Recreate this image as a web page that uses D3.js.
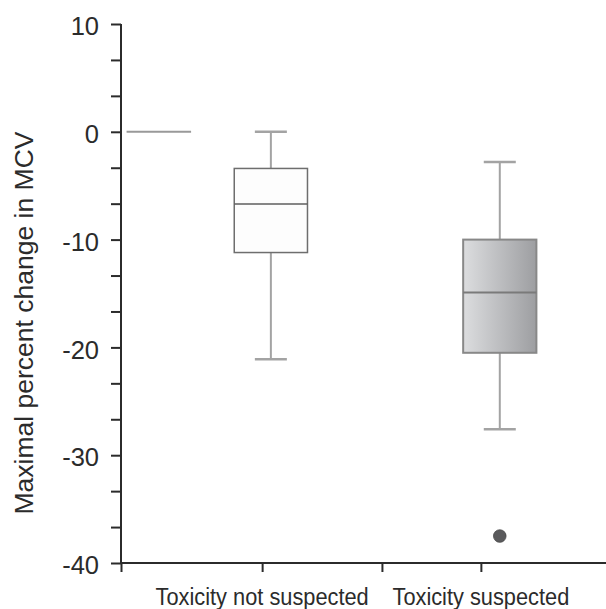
<!DOCTYPE html>
<html>
<head>
<meta charset="utf-8">
<script src="https://cdn.jsdelivr.net/npm/d3@7"></script>
<style>
  body { margin: 0; background: #fff; }
  text { font-family: "Liberation Sans", Arial, sans-serif; fill: #2b2b2b; }
</style>
</head>
<body>
<script>
// Data
const groups = ["Reference", "Toxicity not suspected", "Toxicity suspected"];
const whiskerLow = [0, -21.1, -27.6];
const q1 = [0, -11.2, -20.5];
const median = [0, -6.7, -14.9];
const q3 = [0, -3.4, -10.0];
const whiskerHigh = [0, 0, -2.8];
const outliers = [[], [], [-37.5]];
const xLabels = ["Toxicity not suspected", "Toxicity suspected"];
const yTickLabels = ["-40", "-30", "-20", "-10", "0", "10"];

// Layout (x in axis units, 0..100)
const width = 606, height = 609;
const boxCenter = [7.8, 30.9, 78.1];
const boxWidth = [13.3, 15.1, 15.1];
const capWidth = 6.6;
const labelPos = [29.1, 74.2];
const boundaryTicks = [0, 53.8];

const svg = d3.select("body").append("svg")
    .attr("width", width)
    .attr("height", height);

const x = d3.scaleLinear().domain([0, 100]).range([121, 606]);
const y = d3.scaleLinear().domain([-40, 10]).range([563, 24]);

// gradient for the second box
const defs = svg.append("defs");
const grad = defs.append("linearGradient").attr("id", "boxGrad")
    .attr("x1", "0%").attr("x2", "100%").attr("y1", "0%").attr("y2", "0%");
grad.append("stop").attr("offset", "0%").attr("stop-color", "#dcdddf");
grad.append("stop").attr("offset", "100%").attr("stop-color", "#9d9ea1");

// Y axis
const yTicks = d3.range(0, 16).map(i => -40 + i * 10 / 3);
const yAxis = d3.axisLeft(y)
    .tickValues(yTicks)
    .tickSize(10)
    .tickPadding(12)
    .tickFormat((d, i) => i % 3 === 0 ? yTickLabels[i / 3] : "");

const gy = svg.append("g")
    .attr("transform", `translate(${x(0)},0)`)
    .call(yAxis);
gy.select(".domain").attr("stroke", "#2b2b2b").attr("stroke-width", 2)
    .attr("d", `M0,${y(10)}V${y(-40)}`);
gy.selectAll(".tick line").attr("stroke", "#2b2b2b").attr("stroke-width", 2);
gy.selectAll(".tick text").style("font-size", "25.5px").attr("fill", "#2b2b2b").attr("dy", "0.42em");

// X axis
const xTickVals = [boundaryTicks[0], labelPos[0], boundaryTicks[1], labelPos[1]];
const xAxis = d3.axisBottom(x)
    .tickValues(xTickVals)
    .tickSize(9)
    .tickFormat("");
const gx = svg.append("g")
    .attr("transform", `translate(0,${y(-40)})`)
    .call(xAxis);
gx.select(".domain").attr("stroke", "#2b2b2b").attr("stroke-width", 2)
    .attr("d", `M${x(0) - 1},0H${x(100)}`);
gx.selectAll(".tick line").attr("stroke", "#2b2b2b").attr("stroke-width", 2);

// labels are slightly taller than wide in the reference
svg.selectAll(".xlabel")
    .data(xLabels)
    .enter()
    .append("text")
    .attr("class", "xlabel")
    .attr("transform", (d, i) => `translate(${x(labelPos[i])},605) scale(1,1.08)`)
    .attr("text-anchor", "middle")
    .style("font-size", "21.8px")
    .text(d => d);

// Y label
svg.append("text")
    .attr("transform", `translate(33,323) rotate(-90)`)
    .attr("text-anchor", "middle")
    .style("font-size", "26.5px")
    .text("Maximal percent change in MCV");

// Boxes
const boxes = svg.append("g");
groups.forEach(function(g, i) {
    const cx = x(boxCenter[i]);
    const half = (x(boxWidth[i]) - x(0)) / 2;
    const capHalf = (x(capWidth) - x(0)) / 2;
    const grp = boxes.append("g");

    if (q3[i] === q1[i]) {
        // degenerate group: a flat line
        grp.append("line")
            .attr("x1", cx - half).attr("x2", cx + half)
            .attr("y1", y(median[i])).attr("y2", y(median[i]))
            .attr("stroke", "#999").attr("stroke-width", 2);
        return;
    }

    // whiskers
    grp.append("line")
        .attr("x1", cx).attr("x2", cx)
        .attr("y1", y(whiskerHigh[i])).attr("y2", y(q3[i]))
        .attr("stroke", "#a3a3a3").attr("stroke-width", 2);
    grp.append("line")
        .attr("x1", cx).attr("x2", cx)
        .attr("y1", y(q1[i])).attr("y2", y(whiskerLow[i]))
        .attr("stroke", "#a3a3a3").attr("stroke-width", 2);
    [whiskerHigh[i], whiskerLow[i]].forEach(function(v) {
        grp.append("line")
            .attr("x1", cx - capHalf).attr("x2", cx + capHalf)
            .attr("y1", y(v)).attr("y2", y(v))
            .attr("stroke", "#a3a3a3").attr("stroke-width", 2.5);
    });

    const dark = i === 2;
    grp.append("rect")
        .attr("x", cx - half)
        .attr("y", y(q3[i]))
        .attr("width", half * 2)
        .attr("height", y(q1[i]) - y(q3[i]))
        .attr("fill", dark ? "url(#boxGrad)" : "#fdfdfd")
        .attr("stroke", dark ? "#888" : "#6e6e6e")
        .attr("stroke-width", dark ? 2 : 1.5);
    grp.append("line")
        .attr("x1", cx - half).attr("x2", cx + half)
        .attr("y1", y(median[i])).attr("y2", y(median[i]))
        .attr("stroke", dark ? "#7a7a7a" : "#5e5e5e")
        .attr("stroke-width", dark ? 2 : 1.5);

    grp.selectAll("circle")
        .data(outliers[i])
        .enter()
        .append("circle")
        .attr("cx", cx)
        .attr("cy", d => y(d))
        .attr("r", 6.3)
        .attr("fill", "#5a5a5c")
        .attr("stroke", "#4a4a4a")
        .attr("stroke-width", 0.8);
});
</script>
</body>
</html>
